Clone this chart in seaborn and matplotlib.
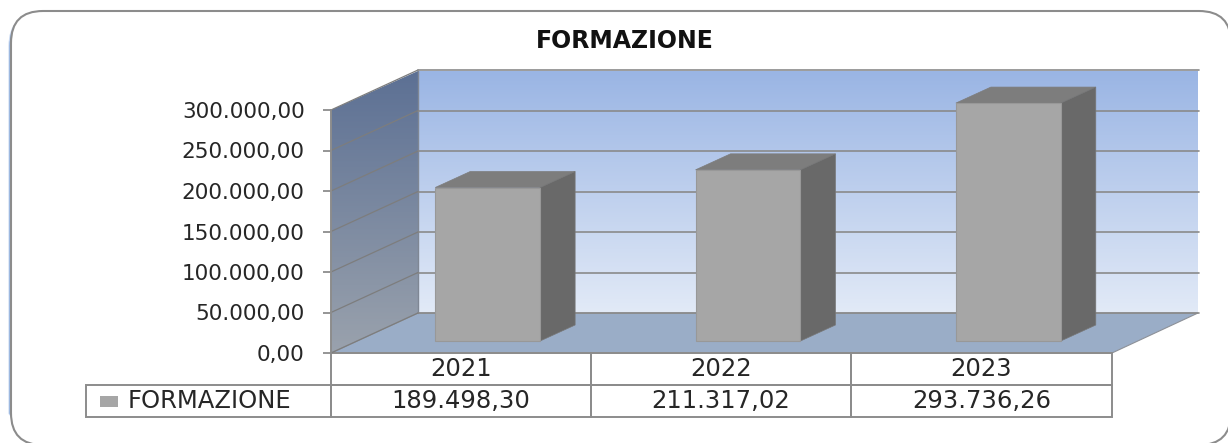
import numpy as np
import pandas as pd
import seaborn as sns
import matplotlib
matplotlib.use('Agg')
import matplotlib.pyplot as plt
from matplotlib.colors import LinearSegmentedColormap
from matplotlib.patches import FancyBboxPatch, Polygon, Rectangle
from matplotlib.ticker import FuncFormatter
from matplotlib.transforms import Affine2D

anni = ['2021', '2022', '2023']
valori = [189498.30, 211317.02, 293736.26]
valori_testo = ['189.498,30', '211.317,02', '293.736,26']
tick_y = [0, 50000, 100000, 150000, 200000, 250000, 300000]
titolo = 'FORMAZIONE'

W, H = 1228, 443
GRIGIO = '#8c8c8c'
TESTO = '#262626'

sns.set_theme(style='white')
plt.rcParams['font.family'] = ['DejaVu Sans']


def formato_it(v, pos=None):
    return f'{v:,.2f}'.replace(',', 'X').replace('.', ',').replace('X', '.')


def sfumatura(ax, poligono, colore_alto, colore_basso, y_alto, y_basso):
    """Riempie un poligono (in pixel) con una sfumatura verticale"""
    cmap = LinearSegmentedColormap.from_list('s', [colore_alto, colore_basso])
    xs = [p[0] for p in poligono]
    img = ax.imshow(np.linspace(0, 1, 256).reshape(-1, 1), cmap=cmap, aspect='auto',
                    extent=[min(xs), max(xs), y_basso, y_alto], zorder=1)
    patch = Polygon(poligono, closed=True, transform=ax.transData, fc='none', ec='none')
    ax.add_patch(patch)
    img.set_clip_path(patch)


fig = plt.figure(figsize=(W / 100, H / 100), dpi=100, facecolor='white')

# sfondo in pixel: cornice, pareti e pavimento
sfondo = fig.add_axes([0, 0, 1, 1], zorder=0)
sfondo.axis('off')

# ombra azzurra: chiara a sinistra, piu scura negli angoli in basso
sfondo.add_patch(FancyBboxPatch((9.5, 14), 1220, 431,
                                boxstyle='round,pad=0,rounding_size=32',
                                fc='none', ec='#c9d9f2', lw=1.5, zorder=0))
sfondo.add_patch(FancyBboxPatch((11, 14), 1220, 431,
                                boxstyle='round,pad=0,rounding_size=32',
                                fc='none', ec='#5f8fd0', lw=2, zorder=0.1))
sfondo.add_patch(FancyBboxPatch((11, 11), 1220, 434,
                                boxstyle='round,pad=0,rounding_size=32',
                                fc='white', ec=GRIGIO, lw=1.5, zorder=0.5))

sfumatura(sfondo, [(418, 71), (1198, 71), (1198, 313), (418, 313)],
          '#9ab5e4', '#e2eaf7', 71, 313)
sfumatura(sfondo, [(331, 110), (418, 71), (418, 313), (331, 353)],
          '#5c7094', '#9aa2ad', 71, 353)
sfondo.add_patch(Polygon([(331, 353), (418, 313), (1198, 313), (1112, 353)],
                         closed=True, fc='#9aadc7', ec='#8d9198', lw=0.8, zorder=2))
sfondo.plot([418, 418], [71, 313], color='#7f8794', lw=1, zorder=2)
sfondo.add_patch(Rectangle((100, 396), 18, 11, fc='#a6a6a6', ec='none', zorder=2))
sfondo.set_xlim(0, W)
sfondo.set_ylim(H, 0)

# assi principali: piano frontale del grafico
ax = fig.add_axes([331 / W, 1 - 353 / H, 781 / W, 243 / H], zorder=1)
ax.patch.set_alpha(0)

df = pd.DataFrame({'anno': anni, 'valore': valori})
sns.barplot(data=df, x='anno', y='valore', ax=ax, color='#a6a6a6', saturation=1,
            width=0.403, edgecolor='#989898', linewidth=0.8, zorder=5)
ax.set_xlim(-0.5, 2.5)
ax.set_ylim(0, 300000)

px_x = 781 / 3
px_y = 243 / 300000


def sposta(dx, dy):
    # spostamento in pixel sullo schermo, dy verso l'alto
    return ax.transData + Affine2D().translate(dx, dy)


# griglia sulla parete di fondo e sulla parete sinistra
prof_x, prof_y = 87 / px_x, 40 / px_y
for v in tick_y[1:] + [0]:
    ax.plot([-0.5, 2.5], [v, v], color='#8a8a8a', lw=1.2, clip_on=False, zorder=1,
            transform=sposta(87, 40))
    ax.plot([-0.5, -0.5 + prof_x], [v, v + prof_y], color='#7d7d7d', lw=0.9,
            clip_on=False, zorder=1)

# barre: spostate sul pavimento, con faccia superiore e laterale
bar_dx, bar_dy = 26.5, 12
prof_bx, prof_by = 35 / px_x, 16 / px_y
for barra in list(ax.patches):
    x0, w, h = barra.get_x(), barra.get_width(), barra.get_height()
    x1 = x0 + w
    tr = sposta(bar_dx, bar_dy)
    barra.set_transform(tr)
    barra.set_clip_on(False)
    ax.add_patch(Polygon([(x0, h), (x1, h), (x1 + prof_bx, h + prof_by), (x0 + prof_bx, h + prof_by)],
                         closed=True, fc='#7d7d7d', ec='#7d7d7d', lw=0.5, transform=tr,
                         clip_on=False, zorder=4))
    ax.add_patch(Polygon([(x1, 0), (x1 + prof_bx, prof_by), (x1 + prof_bx, h + prof_by), (x1, h)],
                         closed=True, fc='#696969', ec='#777777', lw=0.5, transform=tr,
                         clip_on=False, zorder=4))

# assi
ax.set_xlabel('')
ax.set_ylabel('')
ax.set_xticks([])
ax.set_yticks(tick_y)
ax.yaxis.set_major_formatter(FuncFormatter(formato_it))
ax.tick_params(axis='y', left=True, length=6, width=1.3, color=GRIGIO, pad=13,
               labelsize=15.5, labelcolor=TESTO)
for nome in ['top', 'right', 'bottom']:
    ax.spines[nome].set_visible(False)
ax.spines['left'].set_color(GRIGIO)
ax.spines['left'].set_linewidth(1.4)

# tabella dati sotto il grafico
larg = [245, 260, 260, 261]
tab = ax.table(cellText=[[''] + anni, [titolo] + valori_testo],
               colWidths=[l / sum(larg) for l in larg],
               bbox=[-245 / 781, -64 / 243, 1026 / 781, 64 / 243], cellLoc='center')
tab.auto_set_font_size(False)
for (r, c), cella in tab.get_celld().items():
    cella.set_edgecolor(GRIGIO)
    cella.set_linewidth(1.4)
    cella.set_facecolor('none')
    cella.get_text().set_fontsize(17.5)
    cella.get_text().set_color(TESTO)
    cella.get_text().set_va('center')
    if c == 0 and r == 0:
        cella.visible_edges = ''
    if c == 0 and r == 1:
        cella.PAD = 42 / 245
        cella.get_text().set_ha('left')

fig.text(625 / W, 1 - 41 / H, titolo, ha='center', va='center', fontsize=17,
         fontweight='bold', color='#111111')

fig.savefig('out.png', dpi=100)
